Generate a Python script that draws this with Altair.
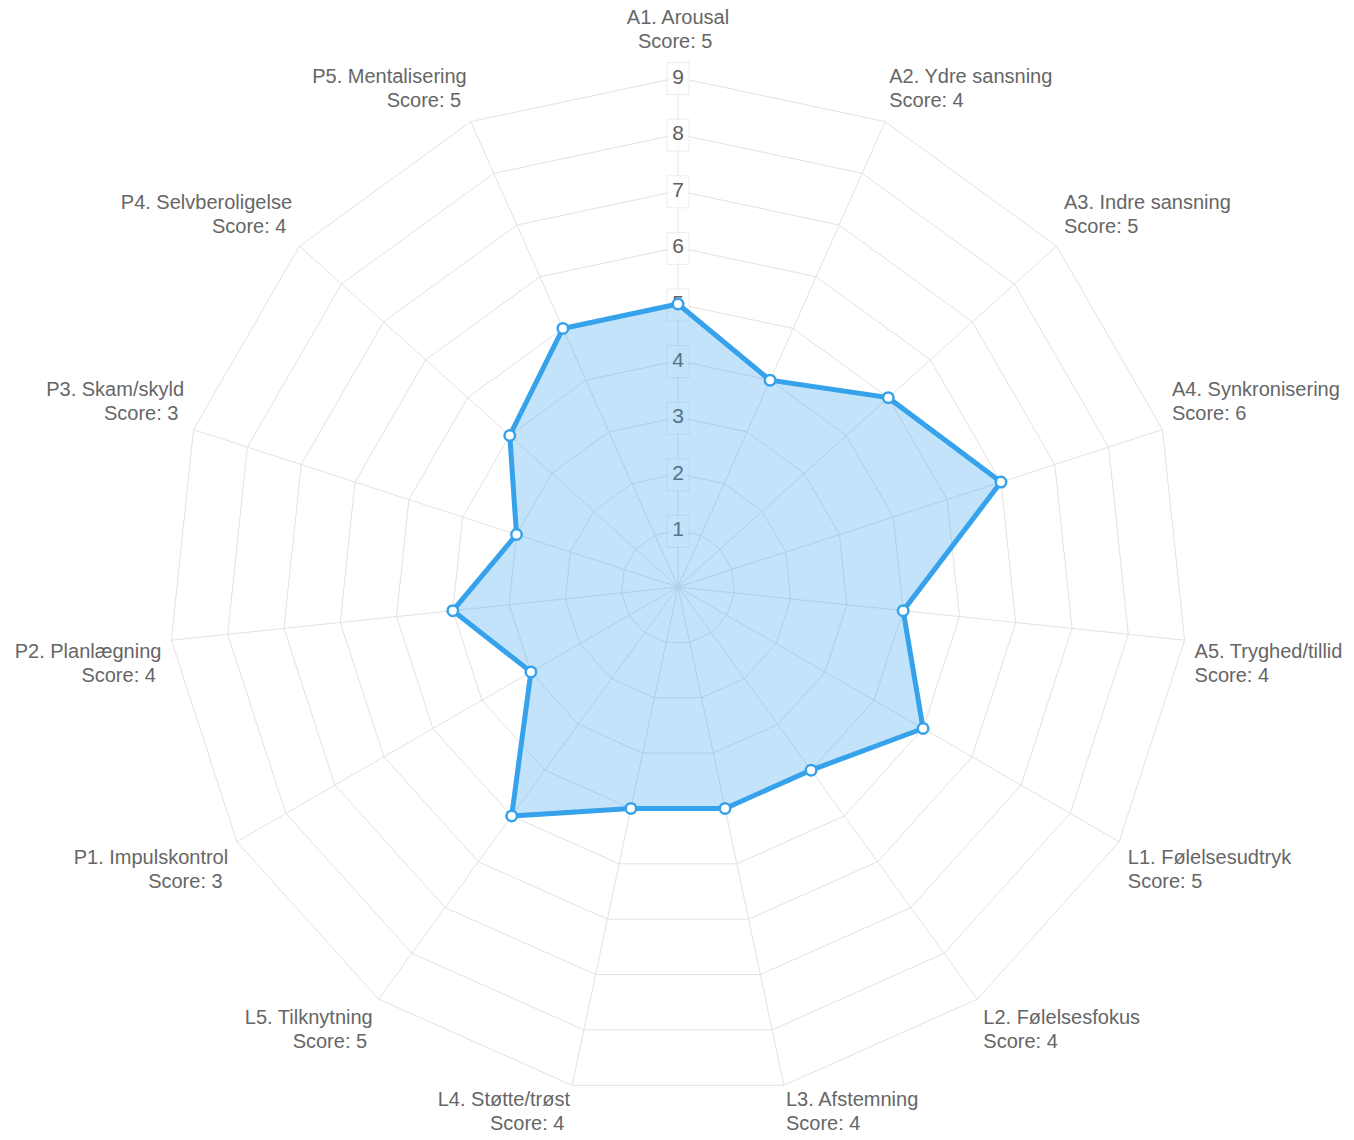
import altair as alt
import pandas as pd
import numpy as np

# ---- data ----
labels = [
    "A1. Arousal", "A2. Ydre sansning", "A3. Indre sansning", "A4. Synkronisering",
    "A5. Tryghed/tillid", "L1. Følelsesudtryk", "L2. Følelsesfokus", "L3. Afstemning",
    "L4. Støtte/trøst", "L5. Tilknytning", "P1. Impulskontrol", "P2. Planlægning",
    "P3. Skam/skyld", "P4. Selvberoligelse", "P5. Mentalisering",
]
scores = [5, 4, 5, 6, 4, 5, 4, 4, 4, 5, 3, 4, 3, 4, 5]
tick_values = [1, 2, 3, 4, 5, 6, 7, 8, 9]
r_max = 9

# ---- layout ----
W, H = 1338, 1124
CX, CY = 670, 579      # centre in plot pixels
S = 56.6               # pixels per score unit
FONT = "Liberation Sans"
BLUE = "#36A2EB"
GRID = "#e2e2e2"

n = len(labels)
ang = np.arange(n) * 2 * np.pi / n
deg = np.arange(n) * 360.0 / n

xs = alt.Scale(domain=[-CX / S, (W - CX) / S], nice=False, zero=False)
ys = alt.Scale(domain=[-(H - CY) / S, CY / S], nice=False, zero=False)

def X(f="x"):
    return alt.X(f"{f}:Q", scale=xs, axis=None)

def Y(f="y"):
    return alt.Y(f"{f}:Q", scale=ys, axis=None)

data_df = pd.DataFrame({
    "i": np.arange(n),
    "label": labels,
    "score": scores,
    "x": np.array(scores) * np.sin(ang),
    "y": np.array(scores) * np.cos(ang),
})

grid_rows = []
for k in tick_values:
    for j in range(n):
        grid_rows.append({"ring": k, "j": j, "x": k * np.sin(ang[j]), "y": k * np.cos(ang[j])})
grid_df = pd.DataFrame(grid_rows)

spoke_df = pd.DataFrame({
    "x0": 0.0, "y0": 0.0,
    "x": r_max * np.sin(ang), "y": r_max * np.cos(ang),
})

tick_df = pd.DataFrame({"x": 0.0, "y": tick_values, "t": [str(v) for v in tick_values]})

def grp(d):
    if d == 0:
        return "cb"
    if d < 90:
        return "lb"
    if d == 90:
        return "lm"
    if d < 160:
        return "lt"
    if d < 180:
        return "lt2"
    if d == 180:
        return "ct"
    if d < 200:
        return "rt2"
    if d < 270:
        return "rt"
    if d == 270:
        return "rm"
    return "rb"

lab_r = np.array([r_max + (26 if i == 0 else 10) / S for i in range(n)])
lab_df = pd.DataFrame({
    "x": lab_r * np.sin(ang),
    "y": lab_r * np.cos(ang),
    "text": [f"{l}\nScore: {s}\u00a0\u200b" for l, s in zip(labels, scores)],
    "g": [grp(d) for d in deg],
})

grid = alt.Chart(grid_df).mark_line(
    interpolate="linear-closed", stroke=GRID, strokeWidth=1
).encode(x=X(), y=Y(), detail="ring:N", order="j:Q")

spokes = alt.Chart(spoke_df).mark_rule(color=GRID, strokeWidth=1).encode(
    x=X("x0"), y=Y("y0"), x2="x:Q", y2="y:Q"
)

backdrops = alt.Chart(tick_df).mark_rect(
    width=22, height=32, fill="white", fillOpacity=0.75,
    stroke="#dcdcdc", strokeWidth=1, strokeOpacity=0.5, yOffset=1
).encode(x=X(), y=Y())

ticks = alt.Chart(tick_df).mark_text(
    font=FONT, fontSize=21, color="#606060", align="center", baseline="middle"
).encode(x=X(), y=Y(), text="t:N")

area = alt.Chart(data_df).mark_line(
    interpolate="linear-closed", fill=BLUE, fillOpacity=0.3,
    stroke=BLUE, strokeWidth=5, strokeJoin="miter"
).encode(x=X(), y=Y(), order="i:Q")

points = alt.Chart(data_df).mark_point(
    filled=False, fill="white", fillOpacity=1, stroke=BLUE, strokeWidth=2.5,
    size=110, opacity=1, shape="circle"
).encode(x=X(), y=Y())

align_map = {"c": "center", "l": "left", "r": "right"}
base_map = {"b": "bottom", "t": "top", "m": "middle"}
dy_map = {"cb": -24, "lb": -26, "rb": -26, "lm": -12, "rm": -12,
          "lt": 1, "rt": 1, "ct": 1, "lt2": -5, "rt2": -5}
label_layers = []
for g in ["cb", "lb", "lm", "lt", "lt2", "ct", "rt2", "rt", "rm", "rb"]:
    if g not in set(lab_df["g"]):
        continue
    label_layers.append(
        alt.Chart(lab_df).transform_filter(alt.datum.g == g).mark_text(
            font=FONT, fontSize=20, color="#666666", lineHeight=24,
            lineBreak="\n", align=align_map[g[0]], baseline=base_map[g[1]],
            dy=dy_map[g]
        ).encode(x=X(), y=Y(), text="text:N")
    )

chart = alt.layer(grid, spokes, backdrops, ticks, area, points, *label_layers).properties(
    width=W, height=H, padding=0, autosize="none", background="white"
).configure_view(stroke=None)

chart.save("out.html", embed_options={"renderer": "svg", "actions": False})
